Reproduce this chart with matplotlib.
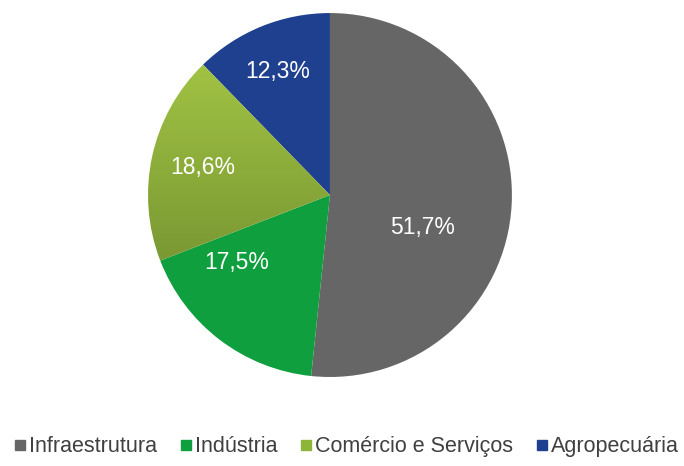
import matplotlib
matplotlib.use("Agg")
import matplotlib.pyplot as plt
from matplotlib.lines import Line2D
import numpy as np

categories = ["Infraestrutura", "Indústria", "Comércio e Serviços", "Agropecuária"]
shares = [51.7, 17.5, 18.6, 12.3]
labels = ["51,7%", "17,5%", "18,6%", "12,3%"]
colors = ["#666666", "#0f9f3e", "#8db53a", "#1f3f8f"]

# label anchor points (in pie radius units), Excel "best fit" style
label_pos = [(0.51, -0.18), (-0.51, -0.37), (-0.70, 0.15), (-0.29, 0.68)]

plt.rcParams["font.family"] = ["Liberation Sans", "DejaVu Sans"]

fig = plt.figure(figsize=(6.84, 4.66), dpi=100)
ax = fig.add_axes([0.2164, 0.191, 0.532, 0.781])

wedges, _ = ax.pie(shares, colors=colors, startangle=90, counterclock=False,
                   radius=1, wedgeprops=dict(linewidth=0))
ax.set_xlim(-1, 1)
ax.set_ylim(-1, 1)
ax.set_aspect("equal")

# vertical gradient on the light green slice
grad = np.linspace(0, 1, 256).reshape(-1, 1)
cmap = matplotlib.colors.LinearSegmentedColormap.from_list("g", ["#a2c444", "#789632"])
w = wedges[2]
im = ax.imshow(grad, cmap=cmap, extent=(-1.05, 0.05, -0.42, 0.75), aspect="auto", zorder=1.5)
im.set_clip_path(w)
w.set_facecolor("none")

for (x, y), txt in zip(label_pos, labels):
    ax.text(x, y, txt, ha="center", va="center", color="white", fontsize=16.5, zorder=5)

handles = [Line2D([], [], marker="s", linestyle="none", markersize=7,
                  markerfacecolor=c, markeredgecolor=c) for c in colors]
fig.legend(handles, categories, loc="center", bbox_to_anchor=(0.507, 0.041), ncol=4,
           frameon=False, fontsize=15.5, handlelength=0.5, handletextpad=0.15,
           columnspacing=1.1, labelcolor="#404040", borderpad=0, borderaxespad=0)

fig.savefig("out.png", dpi=100)
